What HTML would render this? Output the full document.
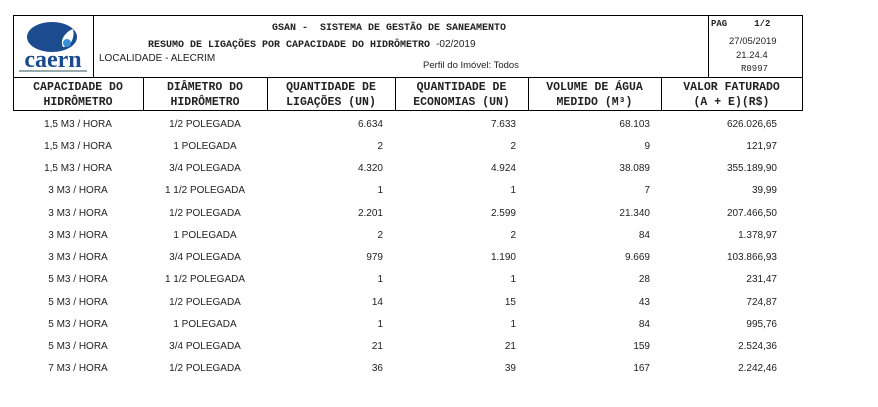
<!DOCTYPE html>
<html><head><meta charset="utf-8"><style>
body{margin:0;width:878px;height:407px;background:#fff;position:relative;overflow:hidden}
.a{position:absolute}
.m{font-family:"Liberation Mono",monospace;font-weight:bold;font-size:10px;color:#222;white-space:nowrap}
.s{font-family:"Liberation Sans",sans-serif;font-size:9.5px;color:#222;white-space:nowrap}
.b{background:#000}
.hc{position:absolute;top:80px;text-align:center;font-family:"Liberation Mono",monospace;font-weight:bold;font-size:11.5px;line-height:15px;color:#222;white-space:nowrap}
td{padding:0;height:22.25px;white-space:nowrap}
</style></head><body>
<div class="a b" style="left:13px;top:15px;width:790px;height:1px"></div>
<div class="a b" style="left:13px;top:77px;width:790px;height:1px"></div>
<div class="a b" style="left:13px;top:110px;width:790px;height:1px"></div>
<div class="a b" style="left:13px;top:15px;width:1px;height:96px"></div>
<div class="a b" style="left:802px;top:15px;width:1px;height:96px"></div>
<div class="a b" style="left:93px;top:15px;width:1px;height:62px"></div>
<div class="a b" style="left:708px;top:15px;width:1px;height:62px"></div>
<div class="a b" style="left:143px;top:77px;width:1px;height:34px"></div>
<div class="a b" style="left:267px;top:77px;width:1px;height:34px"></div>
<div class="a b" style="left:395px;top:77px;width:1px;height:34px"></div>
<div class="a b" style="left:528px;top:77px;width:1px;height:34px"></div>
<div class="a b" style="left:661px;top:77px;width:1px;height:34px"></div>
<svg class="a" style="left:15px;top:17px" width="77" height="58">
<ellipse cx="37" cy="20" rx="25" ry="15" fill="#1c4c8f"/>
<path d="M48 30 C44 22 52 14 58 12 C60 20 56 30 48 30Z" fill="#fff"/>
<circle cx="52" cy="26" r="4" fill="#3b8fd4"/>
<text x="38" y="50" text-anchor="middle" font-family="Liberation Serif,serif" font-weight="bold" font-size="24" fill="#1c4c8f">caern</text>
<rect x="4" y="53" width="68" height="2" fill="#9aa"/>
</svg>
<div class="a m" style="left:272px;top:23px">GSAN -&nbsp; SISTEMA DE GESTÃO DE SANEAMENTO</div>
<div class="a m" style="left:148px;top:39px">RESUMO DE LIGAÇÕES POR CAPACIDADE DO HIDRÔMETRO <span style="font-family:'Liberation Sans',sans-serif;font-weight:normal">-02/2019</span></div>
<div class="a s" style="left:99px;top:53px;font-size:10px">LOCALIDADE - ALECRIM</div>
<div class="a s" style="left:423px;top:60px;font-size:9.5px">Perfil do Imóvel: Todos</div>
<div class="a m" style="left:711px;top:19px;font-size:9px">PAG&nbsp;&nbsp;&nbsp;&nbsp;&nbsp;1/2</div>
<div class="a s" style="left:729px;top:36px">27/05/2019</div>
<div class="a s" style="left:736px;top:50px">21.24.4</div>
<div class="a m" style="left:741px;top:64px;font-weight:normal;font-size:9px">R0997</div>
<div class="hc" style="left:13px;width:130px">CAPACIDADE DO<br>HIDRÔMETRO</div>
<div class="hc" style="left:143px;width:124px">DIÂMETRO DO<br>HIDRÔMETRO</div>
<div class="hc" style="left:267px;width:128px">QUANTIDADE DE<br>LIGAÇÕES (UN)</div>
<div class="hc" style="left:395px;width:133px">QUANTIDADE DE<br>ECONOMIAS (UN)</div>
<div class="hc" style="left:528px;width:133px">VOLUME DE ÁGUA<br>MEDIDO (M³)</div>
<div class="hc" style="left:661px;width:141px">VALOR FATURADO<br>(A + E)(R$)</div>
<div style="position:absolute;left:0;top:113px;width:878px">
<table style="border-collapse:collapse;border-spacing:0;font-family:'Liberation Sans',sans-serif;font-size:10px;color:#222;table-layout:fixed">
<colgroup><col style="width:143px"><col style="width:124px"><col style="width:116px"><col style="width:133px"><col style="width:134px"><col style="width:127px"></colgroup>
<tbody>
<tr><td style="text-align:center;padding-left:13px">1,5 M3 / HORA</td><td style="text-align:center">1/2 POLEGADA</td><td align="right">6.634</td><td align="right">7.633</td><td align="right">68.103</td><td align="right">626.026,65</td></tr>
<tr><td style="text-align:center;padding-left:13px">1,5 M3 / HORA</td><td style="text-align:center">1 POLEGADA</td><td align="right">2</td><td align="right">2</td><td align="right">9</td><td align="right">121,97</td></tr>
<tr><td style="text-align:center;padding-left:13px">1,5 M3 / HORA</td><td style="text-align:center">3/4 POLEGADA</td><td align="right">4.320</td><td align="right">4.924</td><td align="right">38.089</td><td align="right">355.189,90</td></tr>
<tr><td style="text-align:center;padding-left:13px">3 M3 / HORA</td><td style="text-align:center">1 1/2 POLEGADA</td><td align="right">1</td><td align="right">1</td><td align="right">7</td><td align="right">39,99</td></tr>
<tr><td style="text-align:center;padding-left:13px">3 M3 / HORA</td><td style="text-align:center">1/2 POLEGADA</td><td align="right">2.201</td><td align="right">2.599</td><td align="right">21.340</td><td align="right">207.466,50</td></tr>
<tr><td style="text-align:center;padding-left:13px">3 M3 / HORA</td><td style="text-align:center">1 POLEGADA</td><td align="right">2</td><td align="right">2</td><td align="right">84</td><td align="right">1.378,97</td></tr>
<tr><td style="text-align:center;padding-left:13px">3 M3 / HORA</td><td style="text-align:center">3/4 POLEGADA</td><td align="right">979</td><td align="right">1.190</td><td align="right">9.669</td><td align="right">103.866,93</td></tr>
<tr><td style="text-align:center;padding-left:13px">5 M3 / HORA</td><td style="text-align:center">1 1/2 POLEGADA</td><td align="right">1</td><td align="right">1</td><td align="right">28</td><td align="right">231,47</td></tr>
<tr><td style="text-align:center;padding-left:13px">5 M3 / HORA</td><td style="text-align:center">1/2 POLEGADA</td><td align="right">14</td><td align="right">15</td><td align="right">43</td><td align="right">724,87</td></tr>
<tr><td style="text-align:center;padding-left:13px">5 M3 / HORA</td><td style="text-align:center">1 POLEGADA</td><td align="right">1</td><td align="right">1</td><td align="right">84</td><td align="right">995,76</td></tr>
<tr><td style="text-align:center;padding-left:13px">5 M3 / HORA</td><td style="text-align:center">3/4 POLEGADA</td><td align="right">21</td><td align="right">21</td><td align="right">159</td><td align="right">2.524,36</td></tr>
<tr><td style="text-align:center;padding-left:13px">7 M3 / HORA</td><td style="text-align:center">1/2 POLEGADA</td><td align="right">36</td><td align="right">39</td><td align="right">167</td><td align="right">2.242,46</td></tr>
</tbody></table></div>
</body></html>
